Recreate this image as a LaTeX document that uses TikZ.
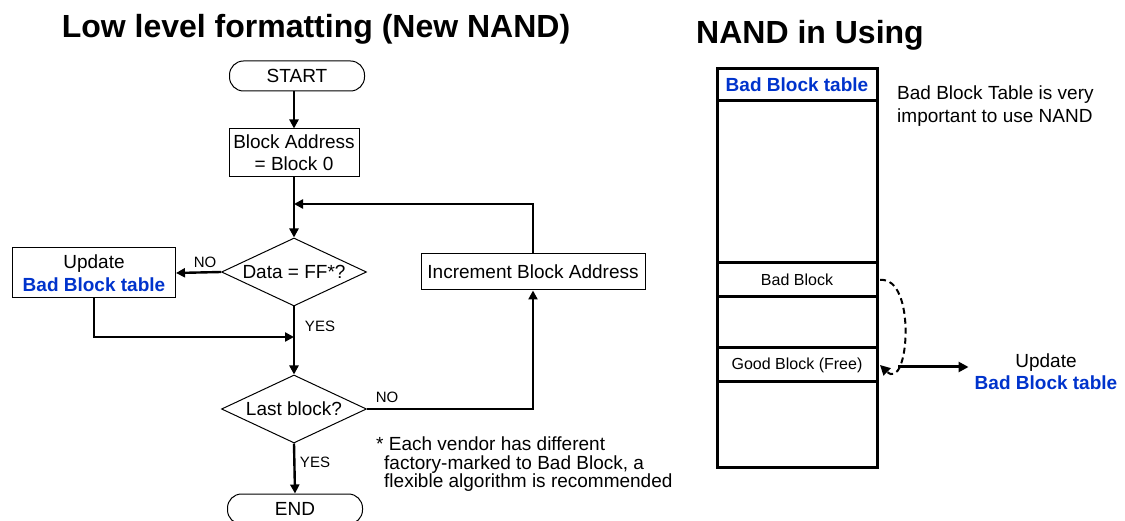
\documentclass[tikz,border=0pt]{standalone}
\usepackage{fontspec}
\setmainfont{Liberation Sans}
\usetikzlibrary{shapes.geometric,arrows.meta}
\definecolor{bbtblue}{RGB}{0,51,204}
\begin{document}
\begin{tikzpicture}[x=1pt,y=-1pt,
  every node/.style={font=\fontsize{19}{22}\selectfont, inner sep=0pt},
  titletext/.style={font=\fontsize{32}{36}\selectfont\bfseries, anchor=base},
  box/.style={draw, line width=1pt, align=center},
  term/.style={draw, line width=1pt, rounded corners=14pt, minimum width=135pt, minimum height=30pt},
  dia/.style={draw, line width=1pt, shape=diamond, aspect=2.15, minimum width=145pt, minimum height=68pt},
  conn/.style={line width=2.4pt, -{Triangle[length=9pt,width=9pt]}},
  lbl/.style={font=\fontsize{15}{18}\selectfont},
  row/.style={draw, line width=3pt, outer sep=0pt, minimum width=160pt, anchor=north, font=\fontsize{16}{19}\selectfont},
  dasharr/.style={line width=2pt, dash pattern=on 6pt off 4pt, -{Triangle[length=10pt,width=10pt]}},
  blue/.style={text=bbtblue, font=\fontsize{19}{22}\selectfont\bfseries}
]
\useasboundingbox (0,0) rectangle (1125,521);

% titles
\node[titletext] (t1) at (316,38) {Low level formatting (New NAND)};
\node[titletext] (t2) at (810,44) {NAND in Using};

% flowchart
\node[term] (start) at (297,76) {START};
\node[box, minimum width=130pt, minimum height=48pt] (addr) at (294,153) {Block Address\\= Block 0};
\node[dia] (d1) at (294,272) {Data = FF*?};
\node[box, minimum width=163pt, minimum height=50pt, font=\fontsize{19}{23}\selectfont] (upd) at (94,273)
  {Update\\\textcolor{bbtblue}{\bfseries Bad Block table}};
\node[box, minimum width=224pt, minimum height=36pt] (inc) at (533,272) {Increment Block Address};
\node[dia] (d2) at (294,409) {Last block?};
\node[term] (end) at (295,509) {END};

\coordinate (j1) at (294,204);
\coordinate (j2) at (294,337);

\draw[conn] (start.south -| addr.north) -- (addr.north);
\draw[conn] (addr.south) -- (d1.north);
\draw[conn] (d1.west) -- (upd.east);
\draw[conn] (upd.south) |- (j2);
\draw[conn] (d1.south) -- (d2.north);
\draw[conn] (d2.east) -| (inc.south);
\draw[conn] (inc.north) |- (j1);
\draw[conn] (d2.south) -- (end.north);

\node[lbl] (no1) at (205,262) {NO};
\node[lbl] (yes1) at (320,326) {YES};
\node[lbl] (no2) at (387,397) {NO};
\node[lbl] (yes2) at (315,462) {YES};

\node[anchor=base west] (n1) at (376,450) {* Each vendor has different};
\node[anchor=base west] (n2) at (384,469) {factory-marked to Bad Block, a};
\node[anchor=base west] (n3) at (384,487) {flexible algorithm is recommended};

% NAND column
\node[row, minimum height=32pt, blue] (r1) at (797,69) {Bad Block table};
\node[row, minimum height=162pt] (r2) at (r1.south) {};
\node[row, minimum height=34pt] (r3) at (r2.south) {Bad Block};
\node[row, minimum height=51pt] (r4) at (r3.south) {};
\node[row, minimum height=34pt] (r5) at (r4.south) {Good Block (Free)};
\node[row, minimum height=85pt] (r6) at (r5.south) {};

\node[anchor=west, align=left, font=\fontsize{19}{23}\selectfont] (note) at (897,106)
  {Bad Block Table is very\\important to use NAND};

\draw[dasharr] ([xshift=3pt]r3.east) .. controls ([xshift=40pt,yshift=4pt]r3.east) and ([xshift=32pt,yshift=-28pt]r5.east) .. ([xshift=3pt]r5.east);

\node[align=center, font=\fontsize{19}{22}\selectfont] (upd2) at (1046,372)
  {Update\\\textcolor{bbtblue}{\bfseries Bad Block table}};
\coordinate (ua) at (898,367);
\draw[line width=3pt, -{Triangle[length=10pt,width=10pt]}, shorten >=6pt] (ua) -- (ua -| upd2.west);
\end{tikzpicture}
\end{document}
